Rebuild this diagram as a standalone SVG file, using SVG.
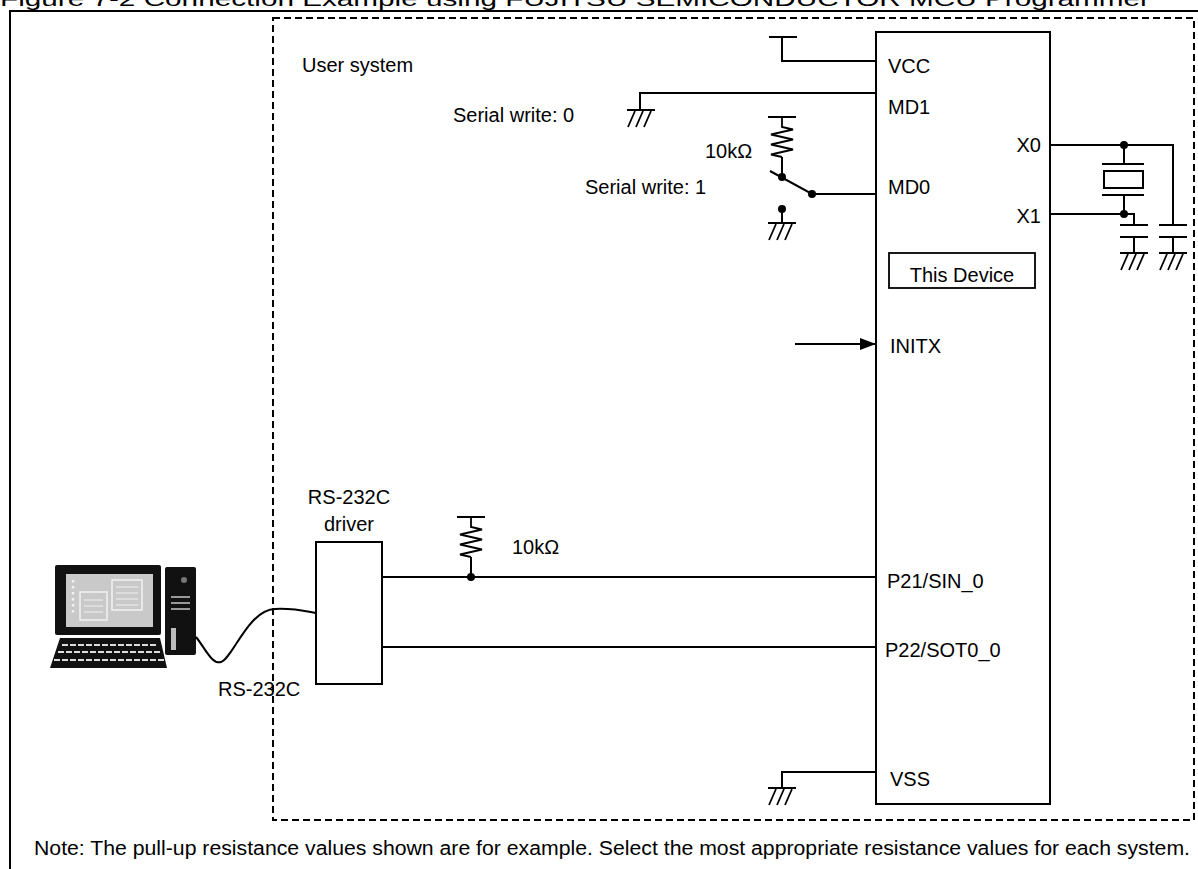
<svg xmlns="http://www.w3.org/2000/svg" width="1198" height="869" viewBox="0 0 1198 869">
<style>
text{font-family:"Liberation Sans",Arial,sans-serif;font-size:20px;fill:#000}
.w{stroke:#000;stroke-width:2;fill:none}
.t{stroke:#000;stroke-width:1.8;fill:none}
.d{stroke:#000;stroke-width:2;fill:none;stroke-dasharray:7 4}
</style>
<defs>
<g id="gnd" class="t"><path d="M-14,0H14M-6,1L-13,17M2,1L-5,17M10,1L3,17"/></g>
<g id="res" class="t"><path d="M-14,0H14M0,0V10L11,12.5L-11,17.5L11,22.5L-11,27.5L11,32.5L-11,37.5L0,40"/></g>
<marker id="arr" viewBox="0 0 16 12" refX="16" refY="6" markerWidth="16" markerHeight="12" markerUnits="userSpaceOnUse" orient="auto"><path d="M0,0L16,6L0,12Z" fill="#000"/></marker>
</defs>
<rect width="1198" height="869" fill="#fff"/>
<text x="0" y="6" font-size="21" textLength="1150" lengthAdjust="spacingAndGlyphs">Figure 7-2 Connection Example using FUJITSU SEMICONDUCTOR MCU Programmer</text>
<path class="w" d="M10,869V11H1198"/>
<rect id="user-system" class="d" x="273" y="18" width="921" height="802"/>
<text x="302" y="72">User system</text>

<g id="chip">
<rect class="w" x="876" y="32" width="174" height="772"/>
<text x="888" y="73">VCC</text>
<text x="888" y="114">MD1</text>
<text x="888" y="194">MD0</text>
<text x="1041" y="152" text-anchor="end">X0</text>
<text x="1041" y="223" text-anchor="end">X1</text>
<rect class="t" x="889" y="253" width="146" height="35"/>
<text x="962" y="282" text-anchor="middle">This Device</text>
<text x="890" y="353">INITX</text>
<text x="887" y="588">P21/SIN_0</text>
<text x="885" y="657">P22/SOT0_0</text>
<text x="890" y="786">VSS</text>
</g>

<g id="driver">
<rect class="w" x="316" y="542" width="66" height="142"/>
<text x="349" y="504" text-anchor="middle">RS-232C</text>
<text x="349" y="531" text-anchor="middle">driver</text>
</g>

<g id="pc">
<rect x="55" y="565" width="106" height="70" rx="2" fill="#111"/>
<rect x="66" y="574" width="87" height="53" fill="#c9c9c9"/>
<rect x="80" y="592" width="27" height="28" fill="none" stroke="#f2f2f2" stroke-width="1.5"/>
<path d="M84,600H103M84,606H103M84,612H103" stroke="#f2f2f2" stroke-width="1.2"/>
<rect x="112" y="580" width="30" height="30" fill="none" stroke="#f2f2f2" stroke-width="1.5"/>
<path d="M116,587H138M116,593H138M116,599H138M116,605H138" stroke="#f2f2f2" stroke-width="1.2"/>
<path d="M73,580V614" stroke="#f2f2f2" stroke-width="2.5" stroke-dasharray="2.5 3.5"/>
<rect x="165" y="567" width="31" height="88" rx="2" fill="#111"/>
<circle cx="184" cy="580" r="3" fill="#777"/>
<path d="M171,597H190M171,603H190M171,609H190" stroke="#999" stroke-width="2"/>
<rect x="171" y="628" width="5" height="22" fill="#bbb"/>
<path d="M60,638H160L167,668H50Z" fill="#111"/>
<path d="M62,645H158M58,652H162M54,660H164" stroke="#ddd" stroke-width="2" stroke-dasharray="6 2"/>
</g>
<text x="218" y="696">RS-232C</text>

<g id="connectors">
<path class="w" d="M769,37H797M782,37V61H876"/>
<path class="w" d="M876,93H640V110"/>
<use href="#gnd" x="641" y="110"/>
<text x="453" y="122">Serial write: 0</text>
<use href="#res" x="782" y="117"/>
<path class="w" d="M782,157V177M770,171L812,194H876"/>
<circle cx="782" cy="177" r="4"/>
<circle cx="812" cy="194" r="4"/>
<circle cx="782" cy="209" r="4"/>
<path class="w" d="M782,209V223"/>
<use href="#gnd" x="782" y="223"/>
<text x="705" y="158">10kΩ</text>
<text x="585" y="194">Serial write: 1</text>
<path class="w" d="M1050,145H1173V225M1050,214H1134V225M1124,145V164M1124,195V214"/>
<circle cx="1124" cy="145" r="4"/>
<circle cx="1124" cy="214" r="4"/>
<path class="w" d="M1102,164H1144M1102,195H1144"/>
<rect class="w" x="1104" y="171" width="39" height="17"/>
<path class="w" d="M1120,225H1148M1120,237H1148M1159,225H1187M1159,237H1187M1134,237V253M1173,237V253"/>
<use href="#gnd" x="1134" y="253"/>
<use href="#gnd" x="1173" y="253"/>
<path class="w" d="M795,344H876" marker-end="url(#arr)"/>
<path class="w" d="M382,577H876M382,647H876"/>
<use href="#res" x="471" y="517"/>
<path class="w" d="M471,557V577"/>
<circle cx="471" cy="577" r="4"/>
<text x="512" y="554">10kΩ</text>
<path class="w" d="M876,772H782V788"/>
<use href="#gnd" x="782" y="788"/>
<path d="M196,637C205,648 212,665 221,662C233,658 248,610 275,609C292,608 305,611 316,613" fill="none" stroke="#000" stroke-width="2"/>
</g>

<text x="34" y="855" font-size="19" textLength="1156" lengthAdjust="spacingAndGlyphs">Note: The pull-up resistance values shown are for example. Select the most appropriate resistance values for each system.</text>
</svg>
